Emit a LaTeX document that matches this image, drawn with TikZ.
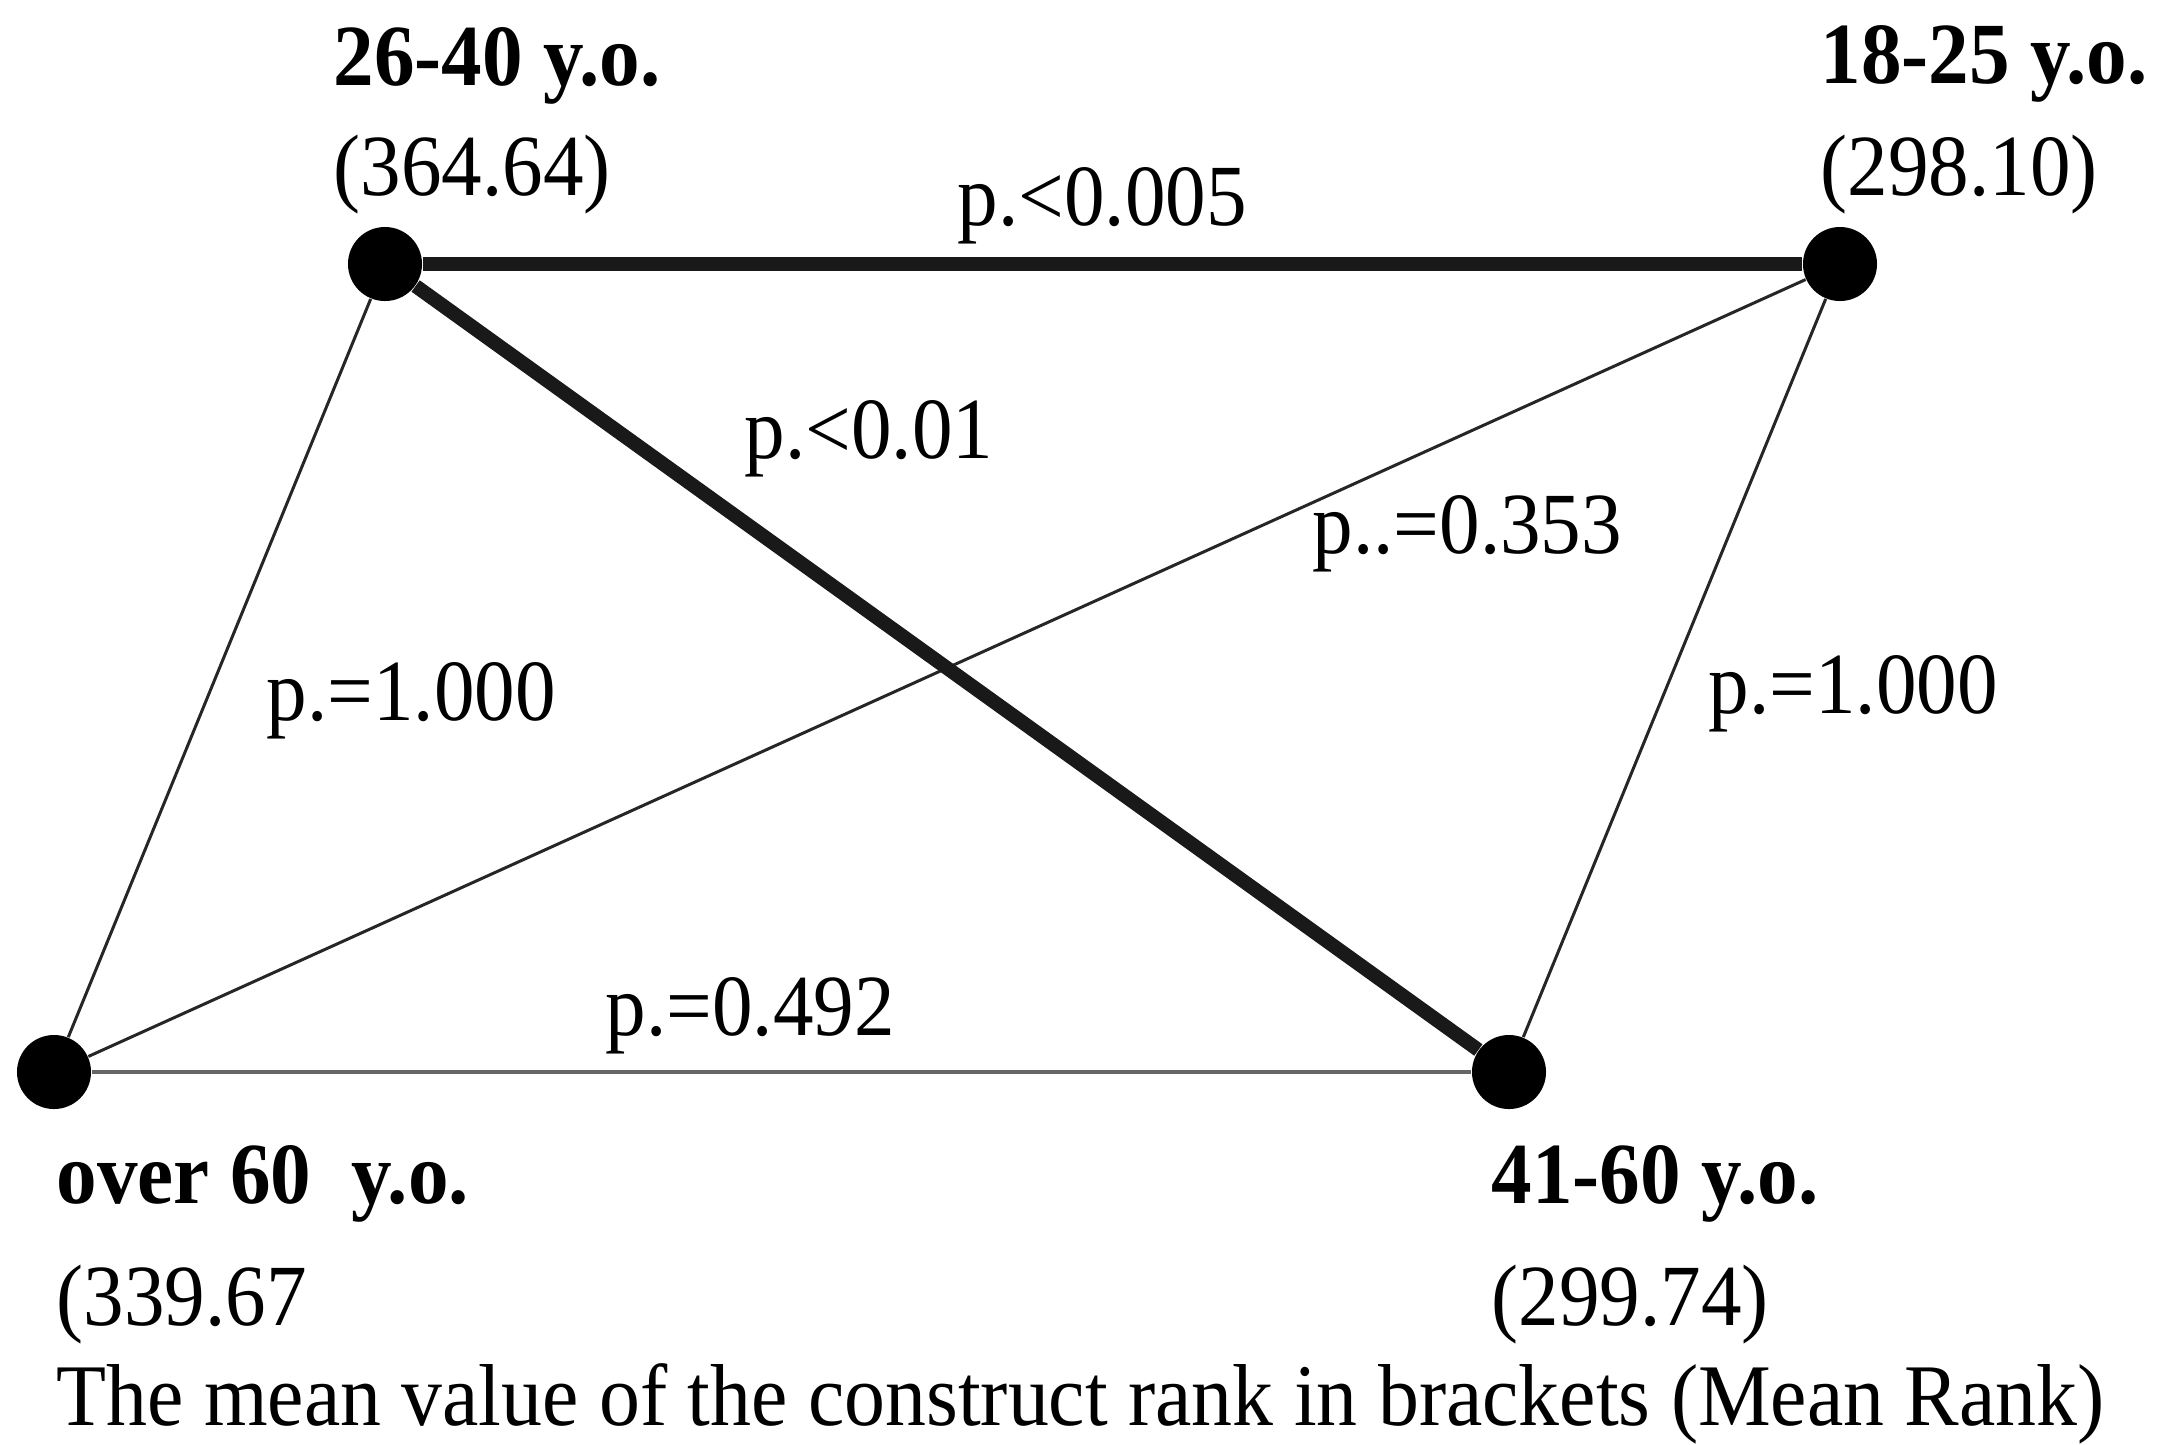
\documentclass[tikz,border=0pt]{standalone}
\usepackage{fontspec}
\setmainfont[FakeStretch=0.93]{Liberation Serif}
\begin{document}
\begin{tikzpicture}[x=0.01cm,y=-0.01cm,
  dot/.style={circle,fill=black,draw=none,minimum size=0.74cm,inner sep=0pt},
  lbl/.style={anchor=base west,inner sep=0pt,font=\fontsize{24.8}{29}\selectfont},
  grp/.style={lbl,font=\fontsize{24.8}{29}\selectfont\bfseries},
  thickedge/.style={line width=4pt,black!90},
  thinedge/.style={line width=0.85pt,black!85},
  grayedge/.style={line width=1.4pt,black!60}]
\path[use as bounding box,fill=white] (0,0) rectangle (2174,1444);
% dots
\node[dot] (a) at (385,264) {};
\node[dot] (b) at (1840,264) {};
\node[dot] (c) at (54,1072) {};
\node[dot] (d) at (1509,1072) {};
% edges
\draw[thinedge] (a) -- (c);
\draw[thinedge] (b) -- (d);
\draw[thinedge] (c) -- (b);
\draw[grayedge] (c) -- (d);
\draw[thickedge] (a) -- (b);
\draw[thickedge] (a) -- (d);
% group labels
\node[grp] (ta) at (333,85) {26-40 y.o.};
\node[lbl] (va) at (333,195) {(364.64)};
\node[grp] (tb) at (1820,83) {18-25 y.o.};
\node[lbl] (vb) at (1820,195) {(298.10)};
\node[grp] (tc) at (56,1203) {over 60\ \ y.o.};
\node[lbl] (vc) at (56,1325) {(339.67};
\node[grp] (td) at (1491,1203) {41-60 y.o.};
\node[lbl] (vd) at (1491,1325) {(299.74)};
% edge labels
\node[lbl] (pab) at (957,225) {p.<0.005};
\node[lbl] (pad) at (744,458) {p.<0.01};
\node[lbl] (pcb) at (1312,553) {p..=0.353};
\node[lbl] (pac) at (266,720) {p.=1.000};
\node[lbl] (pbd) at (1708,713) {p.=1.000};
\node[lbl] (pcd) at (605,1035) {p.=0.492};
% caption
\node[lbl,font=\fontsize{25}{29}\selectfont] (cap) at (56,1425) {The mean value of the construct rank in brackets (Mean Rank)};
\end{tikzpicture}
\end{document}
